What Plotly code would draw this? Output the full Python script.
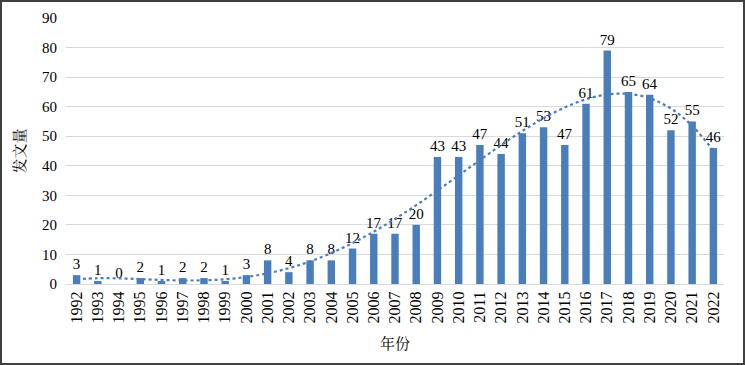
import numpy as np
import plotly.graph_objects as go

years = [str(y) for y in range(1992, 2023)]
counts = [3, 1, 0, 2, 1, 2, 2, 1, 3, 8, 4, 8, 8, 12, 17, 17, 20, 43, 43, 47, 44,
          51, 53, 47, 61, 79, 65, 64, 52, 55, 46]
y_ticks = list(range(0, 100, 10))

W, H = 745, 365
L, R, T, B = 66, 21, 18, 81
pw, ph = W - L - R, H - T - B

# polynomial trendline fitted to the data
xi = np.arange(len(counts))
coef = np.polyfit(xi, counts, 4)
trend = np.polyval(coef, xi)

blue = "#4a7ebb"
font_main = "Liberation Serif, Noto Serif CJK SC, Noto Sans CJK SC, serif"

fig = go.Figure()
fig.add_trace(go.Bar(
    x=years, y=counts, marker=dict(color=blue, line=dict(width=0)),
    text=[str(c) for c in counts], textposition="outside",
    textfont=dict(family=font_main, size=15, color="#000000"),
    constraintext="none",
    cliponaxis=False, width=0.35,
))
fig.add_trace(go.Scatter(
    x=years, y=trend, mode="lines",
    line=dict(color=blue, width=2.2, dash="dot", shape="spline"),
    hoverinfo="skip",
))

fig.update_layout(
    width=W, height=H,
    margin=dict(l=L, r=R, t=T, b=B, autoexpand=False),
    paper_bgcolor="white", plot_bgcolor="white",
    showlegend=False,
    font=dict(family=font_main, size=15, color="#000000"),
    xaxis=dict(
        tickangle=-90, showgrid=False, showline=True, linecolor="#d9d9d9",
        linewidth=1, ticks="", tickfont=dict(size=16), automargin=False,
        title=dict(text="年份", font=dict(size=15), standoff=16),
    ),
    yaxis=dict(
        range=[0, 90], tickvals=y_ticks, showgrid=True, gridcolor="#d9d9d9",
        gridwidth=1, zeroline=False, ticks="", tickfont=dict(size=15),
        ticklabelstandoff=8, automargin=False,
        title=dict(text="发文量", font=dict(size=15), standoff=12),
    ),
    shapes=[dict(
        type="rect", xref="paper", yref="paper",
        x0=-(L - 1) / pw, x1=1 + (R - 1) / pw,
        y0=-(B - 1) / ph, y1=1 + (T - 1) / ph,
        line=dict(color="#404040", width=2),
    )],
)

fig.write_html("out.html", config={"displayModeBar": False},
               post_script="document.body.style.margin='0';")
